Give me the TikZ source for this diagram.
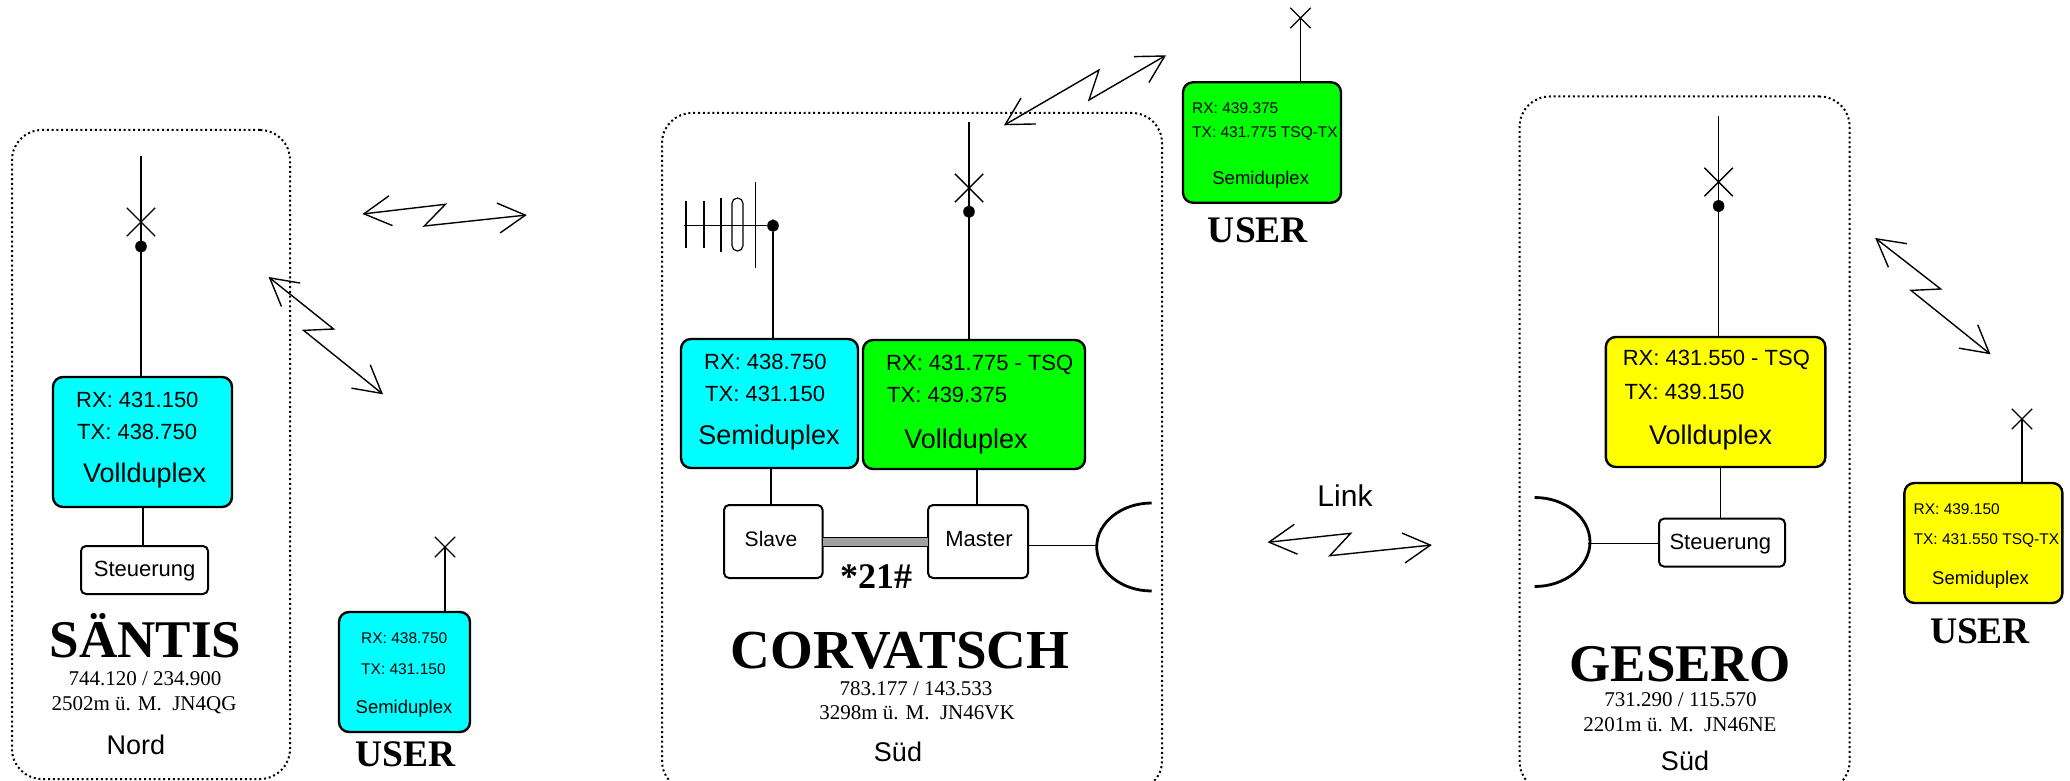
\documentclass[tikz,border=0pt]{standalone}
\usepackage{fontspec}
\setmainfont{Liberation Serif}
\setsansfont{Liberation Sans}
\usepackage{xcolor}
\usepackage{tikz}
\usetikzlibrary{arrows.meta, shapes.misc, shapes.geometric}
\definecolor{C1}{HTML}{00ffff}
\definecolor{C2}{HTML}{00ff00}
\definecolor{C3}{HTML}{ffff00}
\definecolor{C4}{HTML}{a0a0a0}

\begin{document}
\begin{tikzpicture}[
	x = 1pt, y = -1pt,
	panel/.style = {draw, rectangle, rounded corners=30pt, line width=2pt, dash pattern=on 2pt off 2.8pt},
	stationbox/.style = {draw, rectangle, rounded corners=10pt, line width=2.4pt, outer sep=0pt},
	ctrlbox/.style = {draw, rectangle, rounded corners=5pt, line width=2pt, outer sep=0pt, font=\sffamily\fontsize{22}{26}\selectfont},
	freq/.style = {anchor=base west, inner sep=0pt, font=\sffamily\fontsize{22}{26}\selectfont},
	duplex/.style = {anchor=base, inner sep=0pt, font=\sffamily\fontsize{27}{30}\selectfont},
	ufreq/.style = {anchor=base west, inner sep=0pt, font=\sffamily\fontsize{15.5}{18}\selectfont},
	uduplex/.style = {anchor=base, inner sep=0pt, font=\sffamily\fontsize{18.5}{20}\selectfont},
	site/.style = {anchor=base, inner sep=0pt, font=\bfseries\fontsize{53}{56}\selectfont},
	sitedata/.style = {anchor=base, inner sep=0pt, font=\fontsize{21}{24}\selectfont},
	region/.style = {anchor=base, inner sep=0pt, font=\sffamily\fontsize{27}{30}\selectfont},
	user/.style = {anchor=base, inner sep=0pt, font=\bfseries\fontsize{37.5}{40}\selectfont},
	xmark/.style = {draw, cross out, inner sep=0pt, minimum size=27pt, line width=1.4pt},
	umark/.style = {draw, cross out, inner sep=0pt, minimum size=19pt, line width=1.3pt},
	feed/.style = {draw, ellipse, fill, inner sep=0pt, minimum width=11pt, minimum height=12pt},
	radio/.style = {line width=1.4pt, {Straight Barb[length=27pt,width=30pt]}-{Straight Barb[length=27pt,width=30pt]}},
	wire/.style = {line width=1.4pt},
	every edge/.style = {draw, line width=1.1pt}
]
  \path[use as bounding box, clip] (0, 0) rectangle (2070, 781);

  % Panels
  \node[panel, minimum width=278pt, minimum height=649pt] at (151, 454.5) (santis) {};
  \node[panel, minimum width=500pt, minimum height=678pt] at (912, 452) (corvatsch) {};
  \node[panel, minimum width=330pt, minimum height=695pt] at (1684.6, 444) (gesero) {};

  % Saentis
  \node[stationbox, fill=C1, minimum width=179pt, minimum height=130pt] at (142.5, 442) (sbox) {};
  \node[freq] at (76, 407) (srx) {RX: 431.150};
  \node[freq] at (77, 439) (stx) {TX: 438.750};
  \node[duplex] at (144.6, 482.5) (sdup) {Vollduplex};
  \node[ctrlbox, minimum width=127pt, minimum height=48pt] at (144.5, 570) (sctrl) {};
  \node[anchor=base, inner sep=0pt, font=\sffamily\fontsize{22}{26}\selectfont] at (144.6, 576) (sctrltext) {Steuerung};
  \node[site] at (145.6, 657) (sname) {SÄNTIS};
  \node[sitedata] at (145, 685) (spos) {744.120 / 234.900};
  \node[sitedata] at (144, 710) (sqth) {2502m ü. M.\ \ JN4QG};
  \node[region] at (136, 754) (sreg) {Nord};

  \coordinate (sant) at (141, 156.5);
  \node[xmark] at (141, 222) (sx) {};
  \node[feed] at (141, 246.5) (sdot) {};
  \draw[wire] (sant) -- (sbox.north -| sant);
  \draw (sbox.south -| 143, 0) edge (sctrl.north -| 143, 0);

  % Corvatsch
  \node[stationbox, fill=C1, minimum width=177pt, minimum height=129pt] at (769.5, 403.5) (cbox) {};
  \node[freq] at (704, 369) (crx) {RX: 438.750};
  \node[freq] at (705, 401) (ctx) {TX: 431.150};
  \node[duplex] at (769, 444) (cdup) {Semiduplex};
  \node[stationbox, fill=C2, minimum width=222pt, minimum height=129pt] at (974, 404.5) (mbox) {};
  \node[freq] at (886, 370) (mrx) {RX: 431.775 - TSQ};
  \node[freq] at (887, 402.5) (mtx) {TX: 439.375};
  \node[duplex] at (966, 448) (mdup) {Vollduplex};

  \node[ctrlbox, minimum width=98.6pt, minimum height=73pt] at (773.3, 541.5) (slave) {};
  \node[anchor=base, inner sep=0pt, font=\sffamily\fontsize{21}{24}\selectfont] at (771, 546.7) (slavetext) {Slave};
  \node[ctrlbox, minimum width=100pt, minimum height=73pt] at (978, 541.5) (master) {};
  \node[anchor=base, inner sep=0pt, font=\sffamily\fontsize{22}{26}\selectfont] at (979, 546.7) (mastertext) {Master};
  \node[anchor=base, inner sep=0pt, font=\bfseries\fontsize{36}{40}\selectfont] at (876, 588) (code) {*21\#};
  \node[site, font=\bfseries\fontsize{55}{58}\selectfont] at (900, 668) (cname) {CORVATSCH};
  \node[sitedata] at (916, 695) (cpos) {783.177 / 143.533};
  \node[sitedata] at (917, 719) (cqth) {3298m ü. M.\ \ JN46VK};
  \node[region] at (898, 761.7) (creg) {Süd};

  \coordinate (mant) at (969, 122);
  \node[xmark] at (969, 188) (mx) {};
  \node[feed] at (969, 211.7) (mdot) {};
  \draw[wire] (mant) -- (mbox.north -| mant);
  \node[feed] at (773, 225.7) (cdot) {};
  \draw[wire] (cdot) -- (cbox.north -| cdot);
  \coordinate (boom) at (683.6, 225.7);
  \draw[wire] (boom) -- (cdot);
  \foreach \ex/\ey/\el in {686/201/248, 704/201/248, 721/198/252, 755.7/182/268}
    \draw[wire] (\ex, \ey) -- (\ex, \el);
  \draw[line width=1.2pt, rounded corners=5.4pt] (732, 198) rectangle (743, 251);

  \draw (cbox.south -| 771, 0) edge (slave.north -| 771, 0);
  \draw (mbox.south -| 977, 0) edge (master.north -| 977, 0);
  \draw[fill=C4, line width=.8pt] (slave.east |- 0, 537.3) rectangle (master.west |- 0, 546.7);
  \coordinate (cfeed) at (1096.6, 545.7);
  \draw (master.east |- cfeed) edge (cfeed);
  \draw[line width=2.8pt] (1151.7, 503) arc[start angle=90, end angle=270, x radius=55pt, y radius=44pt];

  % Gesero
  \node[stationbox, fill=C3, minimum width=219.6pt, minimum height=130pt] at (1715.6, 402) (gbox) {};
  \node[freq] at (1622.6, 365) (grx) {RX: 431.550 - TSQ};
  \node[freq] at (1624.3, 399) (gtx) {TX: 439.150};
  \node[duplex] at (1710.7, 444.6) (gdup) {Vollduplex};
  \node[ctrlbox, minimum width=126pt, minimum height=48pt] at (1722, 542.6) (gctrl) {};
  \node[anchor=base, inner sep=0pt, font=\sffamily\fontsize{22}{26}\selectfont] at (1720.3, 549) (gctrltext) {Steuerung};
  \node[site] at (1680, 681) (gname) {GESERO};
  \node[sitedata] at (1680.5, 706.7) (gpos) {731.290 / 115.570};
  \node[sitedata] at (1680, 731) (gqth) {2201m ü. M.\ \ JN46NE};
  \node[region] at (1685, 770.6) (greg) {Süd};

  \coordinate (gant) at (1718.6, 116.4);
  \node[xmark] at (1718.6, 182) (gx) {};
  \node[feed] at (1718.6, 206) (gdot) {};
  \draw[wire] (gant) -- (gbox.north -| gant);
  \draw (gbox.south -| 1720.3, 0) edge (gctrl.north -| 1720.3, 0);
  \coordinate (gfeed) at (1588, 543.3);
  \draw (gctrl.west |- gfeed) edge (gfeed);
  \draw[line width=2.8pt] (1534.6, 497.5) arc[start angle=90, end angle=-90, x radius=55.4pt, y radius=44.5pt];

  % Users
  \node[stationbox, fill=C1, minimum width=131pt, minimum height=120pt] at (404.5, 672) (ubox1) {};
  \node[ufreq] at (361, 643.5) {RX: 438.750};
  \node[ufreq] at (361, 674) {TX: 431.150};
  \node[uduplex] at (404, 713) {Semiduplex};
  \node[user] at (405.5, 766) {USER};
  \node[umark] at (445, 547) (ux1) {};
  \draw[wire] (ux1.center) -- (ubox1.north -| ux1);

  \node[stationbox, fill=C2, minimum width=158pt, minimum height=120.4pt] at (1262, 142.5) (ubox2) {};
  \node[ufreq] at (1192, 113.5) {RX: 439.375};
  \node[ufreq] at (1192, 138) {TX: 431.775 TSQ-TX};
  \node[uduplex] at (1260.7, 184) {Semiduplex};
  \node[user] at (1258, 242.7) {USER};
  \node[umark] at (1300.5, 18) (ux2) {};
  \draw[wire] (ux2.center) -- (ubox2.north -| ux2);

  \node[stationbox, fill=C3, minimum width=158pt, minimum height=120pt] at (1983.4, 543) (ubox3) {};
  \node[ufreq] at (1913.4, 514) {RX: 439.150};
  \node[ufreq] at (1913.4, 544) {TX: 431.550 TSQ-TX};
  \node[uduplex] at (1980.5, 584) {Semiduplex};
  \node[user] at (1980, 643.8) {USER};
  \node[umark] at (2022, 419) (ux3) {};
  \draw[wire] (ux3.center) -- (ubox3.north -| ux3);

  % Radio links
  \coordinate (a1) at (362.5, 214);
  \coordinate (a2) at (445.4, 204.3);
  \coordinate (a3) at (424.3, 226);
  \coordinate (a4) at (526.8, 215);
  \draw[radio] (a1) -- (a2) -- (a3) -- (a4);
  \coordinate (b1) at (268.6, 277);
  \coordinate (b2) at (333.6, 329);
  \coordinate (b3) at (303.6, 330.4);
  \coordinate (b4) at (383, 394.3);
  \draw[radio] (b1) -- (b2) -- (b3) -- (b4);
  \coordinate (c1) at (1004, 125.3);
  \coordinate (c2) at (1099, 70);
  \coordinate (c3) at (1089, 100);
  \coordinate (c4) at (1166, 55.3);
  \draw[radio] (c1) -- (c2) -- (c3) -- (c4);
  \coordinate (d1) at (1267.6, 542.3);
  \coordinate (d2) at (1350.7, 533.3);
  \coordinate (d3) at (1329.8, 555.7);
  \coordinate (d4) at (1431.8, 545);
  \draw[radio] (d1) -- (d2) -- (d3) -- (d4);
  \coordinate (e1) at (1875.2, 238);
  \coordinate (e2) at (1940.7, 289);
  \coordinate (e3) at (1911, 290.4);
  \coordinate (e4) at (1990.5, 354.3);
  \draw[radio] (e1) -- (e2) -- (e3) -- (e4);
  \node[anchor=base, inner sep=0pt, font=\sffamily\fontsize{30}{32}\selectfont] at (1345, 506.7) (link) {Link};
\end{tikzpicture}
\end{document}
